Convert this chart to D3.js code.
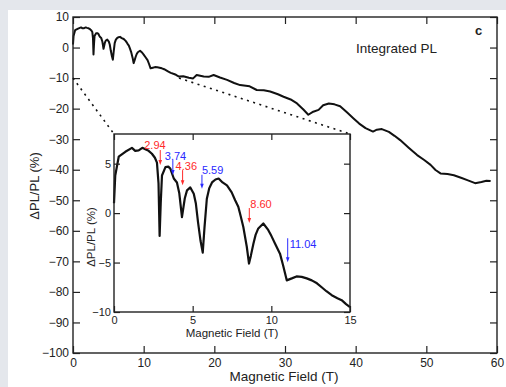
<!DOCTYPE html>
<html>
<head>
<meta charset="utf-8">
<script src="https://cdn.jsdelivr.net/npm/d3@7"></script>
<style>
  body { margin: 0; background: #e4e7ec; }
  #chart { position: absolute; left: 0; top: 0; }
  text { font-family: "Liberation Sans", Arial, Helvetica, sans-serif; fill: #222; }
</style>
</head>
<body>
<div id="chart"></div>
<script>
// integrated PL vs field
var fieldT = [0.0, 0.08, 0.3, 0.72, 1.14, 1.35, 1.57, 1.8, 1.99, 2.2, 2.41, 2.6, 2.73, 2.83, 2.9, 2.97, 3.05, 3.27, 3.45, 3.58,
  3.8, 4.0, 4.15, 4.32, 4.5, 4.64, 4.85, 5.07, 5.2, 5.34, 5.5, 5.64, 5.75, 5.9, 6.05, 6.23, 6.45, 6.65, 6.9, 7.18,
  7.48, 7.7, 7.9, 8.05, 8.22, 8.44, 8.58, 8.7, 8.86, 9.0, 9.17, 9.49, 9.8, 10.0, 10.24, 10.55, 10.75, 10.98, 11.3, 11.6,
  11.93, 12.25, 12.57, 12.9, 13.2, 13.5, 13.84, 14.2, 14.47, 14.75, 15.0, 15.6, 16.4, 17.0, 17.5, 18.5, 19.2, 19.9, 20.8, 21.8,
  22.8, 23.65, 25.0, 26.0, 27.0, 27.9, 29.0, 29.8, 30.8, 31.7, 32.6, 33.3, 34.0, 34.75, 35.4, 36.2, 37.0, 37.8, 38.8, 39.7,
  40.5, 41.4, 42.45, 43.0, 43.7, 44.7, 45.5, 46.3, 47.5, 48.7, 49.7, 50.6, 51.3, 52.0, 53.0, 53.9, 55.0, 55.8, 56.9, 57.8,
  58.5, 59.1];
var deltaPL = [1.0, 3.8, 5.7, 6.2, 6.6, 6.3, 6.35, 6.6, 6.45, 6.3, 6.0, 5.6, 5.1, 3.0, -2.3, 1.0, 3.8, 4.65, 4.7, 4.5,
  3.5, 3.1, 2.0, -0.4, 1.5, 2.3, 2.6, 1.95, 1.0, -0.9, -2.8, -4.0, -1.5, 1.45, 2.5, 3.1, 3.4, 3.5, 3.1, 2.8,
  2.1, 1.3, 0.65, -0.3, -1.4, -3.4, -5.1, -4.3, -3.1, -2.2, -1.55, -1.05, -1.7, -2.3, -3.1, -4.1, -5.3, -6.8, -6.6, -6.4,
  -6.45, -6.6, -6.8, -7.1, -7.5, -7.9, -8.3, -8.6, -8.8, -9.2, -9.5, -9.4, -9.9, -10.1, -9.0, -9.5, -9.6, -9.0, -9.8, -10.6,
  -11.6, -12.3, -12.7, -13.9, -14.0, -14.4, -15.3, -16.1, -17.0, -18.3, -20.3, -22.0, -21.0, -20.4, -18.9, -18.3, -18.6, -19.2, -21.3, -23.2,
  -24.9, -26.4, -27.5, -26.9, -26.7, -27.6, -28.9, -30.3, -32.8, -35.2, -36.8, -38.4, -40.1, -41.2, -41.4, -41.8, -42.7, -43.4, -44.4, -44.0,
  -43.6, -43.7];

// marked resonances in the inset
var peakFields = [2.94, 3.74, 4.36, 5.59, 8.60, 11.04];
var peakLabels = ["2.94", "3.74", "4.36", "5.59", "8.60", "11.04"];
var peakSet = ["a", "b", "a", "b", "a", "b"];
var peakTipPL = [4.86, 3.85, 2.83, 2.46, -1.0, -4.97];

var mainXTicks = [0, 10, 20, 30, 40, 50, 60];
var mainYTicks = [10, 0, -10, -20, -30, -40, -50, -60, -70, -80, -90, -100];
var insetXTicks = [0, 5, 10, 15];
var insetYTicks = [5, 0, -5, -10];

var W = 506, H = 387;
var data = fieldT.map(function(t, i) { return { t: t, v: deltaPL[i] }; });

var svg = d3.select('#chart').append('svg')
  .attr('width', W)
  .attr('height', H);

// white panel on the grey page
svg.append('rect')
  .attr('x', 8).attr('y', 10)
  .attr('width', W - 8).attr('height', H - 10)
  .attr('fill', '#fff');

var x = d3.scaleLinear().domain([0, 60]).range([73, 497]);
var y = d3.scaleLinear().domain([-100, 10]).range([353, 17]);

var frameColor = '#222';

function drawAxes(g, xs, ys, xt, yt, tickLen, fontSize, pad) {
  var x0 = xs.range()[0], x1 = xs.range()[1];
  var y0 = ys.range()[0], y1 = ys.range()[1];

  g.append('g')
    .attr('transform', 'translate(0,' + y0 + ')')
    .call(d3.axisBottom(xs).tickValues(xt).tickSize(-tickLen).tickPadding(pad + 1).tickFormat(d3.format('d')));
  g.append('g')
    .attr('transform', 'translate(0,' + y1 + ')')
    .call(d3.axisTop(xs).tickValues(xt).tickSize(-tickLen).tickFormat(''));
  g.append('g')
    .attr('transform', 'translate(' + x0 + ',0)')
    .call(d3.axisLeft(ys).tickValues(yt).tickSize(-tickLen).tickPadding(pad).tickFormat(d3.format('d')));
  g.append('g')
    .attr('transform', 'translate(' + x1 + ',0)')
    .call(d3.axisRight(ys).tickValues(yt).tickSize(-tickLen).tickFormat(''));

  g.selectAll('.domain').remove();
  g.selectAll('.tick line').attr('stroke', frameColor).attr('stroke-width', 1.2);
  g.selectAll('.tick text')
    .attr('fill', '#222')
    .style('font-size', fontSize + 'px')
    .style('font-family', '"Liberation Sans", Arial, sans-serif');

  g.append('rect')
    .attr('x', x0).attr('y', y1)
    .attr('width', x1 - x0).attr('height', y0 - y1)
    .attr('fill', 'none')
    .attr('stroke', frameColor)
    .attr('stroke-width', 1.4);
}

// main plot
var mainG = svg.append('g');

var line = d3.line()
  .x(function(d) { return x(d.t); })
  .y(function(d) { return y(d.v); });

mainG.append('path')
  .datum(data)
  .attr('d', line)
  .attr('fill', 'none')
  .attr('stroke', '#111')
  .attr('stroke-width', 2)
  .attr('stroke-linejoin', 'round');

drawAxes(mainG, x, y, mainXTicks, mainYTicks, 7, 12, 4);

mainG.append('text')
  .attr('x', 284).attr('y', 381)
  .attr('text-anchor', 'middle')
  .style('font-size', '13.5px')
  .text('Magnetic Field (T)');

mainG.append('text')
  .attr('transform', 'translate(39,186) rotate(-90)')
  .attr('text-anchor', 'middle')
  .style('font-size', '13px')
  .text('ΔPL/PL (%)');

mainG.append('text')
  .attr('x', 356).attr('y', 53)
  .style('font-size', '13.5px')
  .attr('fill', '#333')
  .text('Integrated PL');

mainG.append('text')
  .attr('x', 475).attr('y', 35)
  .style('font-size', '13px')
  .style('font-weight', 'bold')
  .text('c');

// inset
var xi = d3.scaleLinear().domain([0, 15]).range([114, 350]);
var yi = d3.scaleLinear().domain([-10, 8]).range([312, 134]);

// dotted zoom guides from the main axes to the inset corners
var guides = [[0, xi.range()[0]], [15, xi.range()[1]]];
mainG.selectAll('line.guide')
  .data(guides)
  .enter().append('line')
    .attr('class', 'guide')
    .attr('x1', function(d) { return x(d[0]); })
    .attr('y1', y(-10))
    .attr('x2', function(d) { return d[1]; })
    .attr('y2', yi.range()[1])
    .attr('stroke', '#111')
    .attr('stroke-width', 1.6)
    .attr('stroke-dasharray', '2,4.5');

var insetG = svg.append('g');

insetG.append('rect')
  .attr('x', 114).attr('y', 134)
  .attr('width', 236).attr('height', 178)
  .attr('fill', '#fff');

var lineI = d3.line()
  .x(function(d) { return xi(d.t); })
  .y(function(d) { return yi(d.v); });

insetG.append('path')
  .datum(data.filter(function(d) { return d.t <= 15; }))
  .attr('d', lineI)
  .attr('fill', 'none')
  .attr('stroke', '#111')
  .attr('stroke-width', 2.2)
  .attr('stroke-linejoin', 'round');

drawAxes(insetG, xi, yi, insetXTicks, insetYTicks, 6, 11, 3);

insetG.append('text')
  .attr('x', 232).attr('y', 337)
  .attr('text-anchor', 'middle')
  .style('font-size', '11.5px')
  .text('Magnetic Field (T)');

insetG.append('text')
  .attr('transform', 'translate(95,237) rotate(-90)')
  .attr('text-anchor', 'middle')
  .style('font-size', '11.5px')
  .text('ΔPL/PL (%)');

// arrows
var setColor = { a: '#ff2a2a', b: '#2a2aff' };
var arrowLen = [15, 15, 15, 14, 15, 24];
var labelDx = [-16, -8, -7, 0, 1, 2];
var labelDy = [-1, 0, 0, -1, 0, 10];

var ann = insetG.selectAll('g.peak')
  .data(peakFields)
  .enter().append('g')
    .attr('class', 'peak');

ann.each(function(f, i) {
  var g = d3.select(this);
  var c = setColor[peakSet[i]];
  var px = xi(f), tip = yi(peakTipPL[i]), top = tip - arrowLen[i];
  g.append('line')
    .attr('x1', px).attr('x2', px)
    .attr('y1', top).attr('y2', tip - 3)
    .attr('stroke', c).attr('stroke-width', 1);
  g.append('path')
    .attr('d', 'M' + (px - 1.8) + ',' + (tip - 5) + 'L' + (px + 1.8) + ',' + (tip - 5) + 'L' + px + ',' + tip + 'Z')
    .attr('fill', c);
  g.append('text')
    .attr('x', px + labelDx[i])
    .attr('y', top + labelDy[i])
    .style('font-size', '11px')
    .style('fill', c)
    .text(peakLabels[i]);
});
</script>
</body>
</html>
